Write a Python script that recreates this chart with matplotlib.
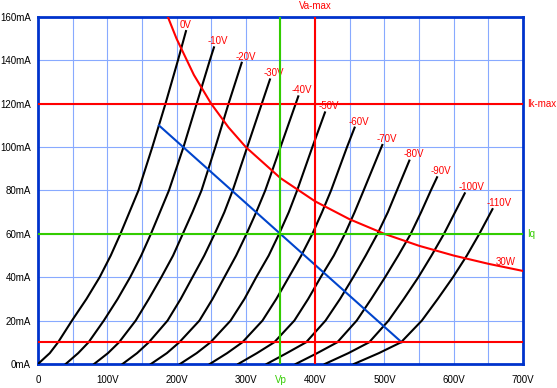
import numpy as np
import matplotlib as mpl
mpl.use('Agg')
import matplotlib.pyplot as plt

plt.rcParams['font.family'] = ['Liberation Sans', 'DejaVu Sans']

# grid voltage of each plate curve
grid_labels = ['0V', '-10V', '-20V', '-30V', '-40V', '-50V', '-60V', '-70V',
               '-80V', '-90V', '-100V', '-110V']

# plate current (mA) / plate voltage (V) points
curve_i = [
    [0, 5, 10, 20, 30, 40, 50, 60, 70, 80, 100, 120, 140, 153.5],
    [0, 5, 10, 20, 30, 40, 50, 60, 70, 80, 100, 120, 140, 146],
    [0, 5, 10, 20, 30, 40, 50, 60, 70, 80, 100, 120, 138.9],
    [0, 5, 10, 20, 30, 40, 50, 60, 70, 80, 100, 120, 131.2],
    [0, 5, 10, 20, 30, 40, 50, 60, 70, 80, 100, 123.4],
    [0, 5, 10, 20, 30, 40, 50, 60, 70, 80, 100, 116],
    [0, 5, 10, 20, 30, 40, 50, 60, 70, 80, 100, 109],
    [0, 5, 10, 20, 30, 40, 50, 60, 70, 80, 101],
    [0, 5, 10, 20, 30, 40, 50, 60, 70, 80, 93.8],
    [0, 5, 10, 20, 30, 40, 50, 60, 70, 80, 86.1],
    [0, 5, 10, 20, 30, 40, 50, 60, 70, 78.7],
    [0, 5, 10, 20, 30, 40, 50, 60, 71.4],
]
curve_v = [
    [0, 17, 29, 49, 70, 89, 105, 119, 132, 145, 165, 184, 202, 213.6],
    [40, 58, 73, 95, 115, 133, 149, 163, 176, 189, 210, 229, 248, 254],
    [81, 101, 117, 141, 160, 178, 195, 209, 223, 236, 256, 275, 294],
    [122, 143, 160, 187, 206, 223, 240, 255, 269, 281, 302, 323, 334.8],
    [163, 186, 204, 233, 252, 269, 286, 301, 315, 328, 350, 375.7],
    [205, 229, 249, 278, 298, 315, 333, 348, 362, 374, 396, 414.2],
    [248, 273, 295, 324, 344, 362, 380, 396, 410, 423, 446, 457],
    [289, 316, 341, 370, 390, 408, 427, 443, 457, 470, 497],
    [330, 359, 387, 415, 436, 455, 473, 490, 505, 518, 536],
    [372, 403, 432, 460, 481, 501, 520, 538, 553, 567, 576],
    [414, 448, 478, 506, 528, 549, 568, 586, 602, 616],
    [456, 492, 524, 554, 577, 599, 619, 637, 656],
]

# 30W max dissipation curve
pmax_v = [187.5, 200, 225, 250, 275, 300, 350, 400, 450, 500, 550, 600, 650, 700]
pmax_i = [160, 150, 133.3, 120, 109.1, 100, 85.7, 75, 66.7, 60, 54.5, 50, 46.2, 42.9]

# load line
load_v = [174.6, 525]
load_i = [110, 10]

va_max = 400
ik_max = 120
vp = 350
iq = 60
i_min = 10

red = '#ff0000'
green = '#33cc00'
blue = '#0044cc'

fig = plt.figure(figsize=(5.57, 3.88), dpi=100)
ax = fig.add_axes([0.0682, 0.0619, 0.8707, 0.8943])

for k in range(len(grid_labels)):
    ax.plot(curve_v[k], curve_i[k], color='black', lw=1.5, zorder=3,
            solid_joinstyle='round')
    ax.text(curve_v[k][-1] - 9, curve_i[k][-1] + 2.8, grid_labels[k],
            color=red, fontsize=7, ha='left', va='center')

ax.plot(pmax_v, pmax_i, color=red, lw=1.5, zorder=4)
ax.plot(load_v, load_i, color=blue, lw=1.5, zorder=4)
ax.axhline(ik_max, color=red, lw=1.5, zorder=4)
ax.axhline(i_min, color=red, lw=1.5, zorder=4)
ax.axhline(iq, color=green, lw=1.5, zorder=4)
ax.axvline(vp, color=green, lw=1.5, zorder=4)
ax.axvline(va_max, color=red, lw=1.5, zorder=4)

ax.text(675, 47, '30W', color=red, fontsize=7, ha='center', va='center')
ax.text(va_max, 162.8, 'Va-max', color=red, fontsize=7, ha='center', va='bottom')
ax.text(706, ik_max, 'Ik-max', color=red, fontsize=7, ha='left', va='center')
ax.text(706, iq, 'Iq', color=green, fontsize=7, ha='left', va='center')

xt = np.arange(0, 701, 50)
ax.set_xticks(xt)
ax.set_xticklabels(['0' if v == 0 else ('%dV' % v if v % 100 == 0 else '') for v in xt])
yt = np.arange(0, 161, 20)
ax.set_yticks(yt)
ax.set_yticklabels(['%dmA' % v for v in yt])
ax.text(vp, -7.4, 'Vp', color=green, fontsize=7, ha='center', va='center')

ax.set_xlim(0, 700)
ax.set_ylim(0, 160)
ax.tick_params(length=0, labelsize=7)
ax.tick_params(axis='x', pad=8)
ax.tick_params(axis='y', pad=5)
ax.grid(True, color='#88aaff', lw=0.8)
ax.set_axisbelow(True)
for s in ax.spines.values():
    s.set_color('#0033cc')
    s.set_linewidth(2)

fig.savefig('out.png', dpi=100)
